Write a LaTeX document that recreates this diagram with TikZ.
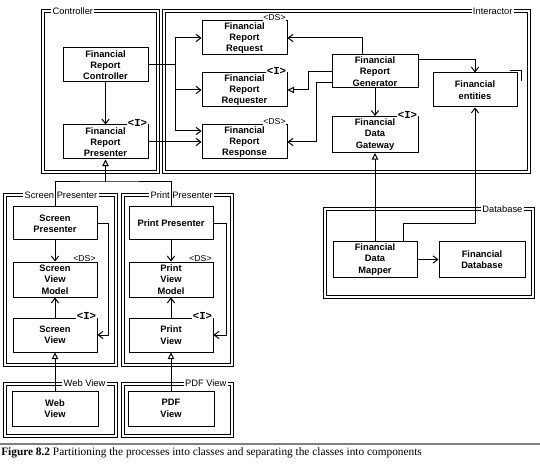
\documentclass[tikz,border=0pt]{standalone}
\usepackage{fontspec}
\setmainfont{Liberation Serif}
\setsansfont{Liberation Sans}
\setmonofont{Liberation Mono}
\usetikzlibrary{arrows.meta,calc}
\begin{document}
\begin{tikzpicture}[x=0.75pt,y=-0.75pt,
 box/.style={draw, line width=0.75pt, inner sep=0pt, align=center, font=\sffamily\bfseries\fontsize{7}{8.5}\selectfont, minimum width=63.75pt, minimum height=25.5pt},
 pkg/.style={draw, double, double distance=1.5pt, line width=0.75pt},
 plabel/.style={fill=white, inner xsep=1pt, inner ysep=0.5pt, font=\sffamily\fontsize{7}{8}\selectfont},
 ster/.style={fill=white, inner xsep=0.5pt, inner ysep=0pt, anchor=east, font=\sffamily\fontsize{6.5}{7}\selectfont},
 sterI/.style={fill=white, inner xsep=0.5pt, inner ysep=0pt, anchor=east, font=\ttfamily\bfseries\fontsize{8}{8}\selectfont},
 dep/.style={draw, line width=0.75pt, -{Straight Barb[length=3.5pt,width=5.5pt]}},
 real/.style={draw, line width=0.75pt, -{Triangle[open,length=5pt,width=5pt]}},
 conn/.style={draw, line width=0.75pt}]
\useasboundingbox (0,0) rectangle (540,467);

% packages
\draw[pkg] (42.5,11.5) rectangle (157.5,172.5);
\draw[pkg] (163.5,11.5) rectangle (528.5,172.5);
\draw[pkg] (324.5,209.5) rectangle (532.5,296.5);
\draw[pkg] (4.5,195.5) rectangle (115.5,364.5);
\draw[pkg] (122.5,195.5) rectangle (231.5,364.5);
\draw[pkg] (4.5,383.5) rectangle (115.5,435.5);
\draw[pkg] (122.5,383.5) rectangle (231.5,435.5);

\node[plabel, anchor=west] (lctrl) at (51,11.5) {Controller};
\node[plabel, anchor=east] (linter) at (514,11.5) {Interactor};
\node[plabel, anchor=east] (ldb) at (524,209.5) {Database};
\node[plabel, anchor=west] (lsp) at (23,195.5) {Screen Presenter};
\node[plabel, anchor=west] (lpp) at (149,195.5) {Print Presenter};
\node[plabel, anchor=east] (lweb) at (107,383.5) {Web View};
\node[plabel, anchor=east] (lpdf) at (228,383.5) {PDF View};

% boxes
\node[box] (ctrl) at (105.5,65) {Financial\\Report\\Controller};
\node[box] (pres) at (105.5,142) {Financial\\Report\\Presenter};
\node[box] (req) at (244.5,38) {Financial\\Report\\Request};
\node[box] (reqr) at (244.5,90) {Financial\\Report\\Requester};
\node[box] (resp) at (244.5,142) {Financial\\Report\\Response};
\node[box, minimum width=64.5pt, minimum height=24.75pt] (gen) at (375,71.5) {Financial\\Report\\Generator};
\node[box, minimum width=64.5pt, minimum height=27pt] (gw) at (375,134.5) {Financial\\Data\\Gateway};
\node[box, minimum width=63pt] (ent) at (475,90) {Financial\\entities};
\node[box, minimum width=63pt, minimum height=26.25pt] (mapper) at (375,259.5) {Financial\\Data\\Mapper};
\node[box, minimum width=64.5pt, minimum height=26.25pt] (db) at (482,259.5) {Financial\\Database};
\node[box, minimum width=63pt, minimum height=24.75pt] (sp) at (55,223.5) {Screen\\Presenter};
\node[box, minimum width=63pt, minimum height=26.25pt] (svm) at (55,279.5) {Screen\\View\\Model};
\node[box, minimum width=63pt] (sv) at (55,335) {Screen\\View};
\node[box, minimum width=63pt, minimum height=24.75pt] (pp) at (171,223.5) {Print Presenter};
\node[box, minimum width=63pt, minimum height=26.25pt] (pvm) at (171,279.5) {Print\\View\\Model};
\node[box, minimum width=63pt] (pv) at (171,335) {Print\\View};
\node[box, minimum width=64.5pt, minimum height=26.25pt] (web) at (55,408.5) {Web\\View};
\node[box, minimum width=64.5pt, minimum height=26.25pt] (pdf) at (171,408.5) {PDF\\View};

% stereotypes
\node[sterI] (st1) at ($(pres.north east)+(-0.5,-1.5)$) {<I>};
\node[ster] (st2) at ($(req.north east)+(-1,-2.5)$) {<DS>};
\node[sterI] (st3) at ($(reqr.north east)+(-0.5,-1.5)$) {<I>};
\node[ster] (st4) at ($(resp.north east)+(-1,-2.5)$) {<DS>};
\node[sterI] (st5) at ($(gw.north east)+(-0.5,-1.5)$) {<I>};
\node[ster] (st6) at ($(svm.north east)+(-1,-2.5)$) {<DS>};
\node[sterI] (st7) at ($(sv.north east)+(-0.5,-1.5)$) {<I>};
\node[ster] (st8) at ($(pvm.north east)+(-1,-2.5)$) {<DS>};
\node[sterI] (st9) at ($(pv.north east)+(-0.5,-1.5)$) {<I>};

% entities corner mark
\draw[conn] ($(ent.north east)+(-8,-2)$) -| ($(ent.north east)+(4,9)$);

% connectors
\coordinate (j1) at (175,65);
\draw[conn] (ctrl.east) -- (j1);
\draw[dep] (j1) |- (req.west);
\draw[dep] (j1) |- (reqr.west);
\draw[dep] (j1) |- ($(resp.west)+(0,-11)$);
\draw[dep] (ctrl) -- (pres);
\draw[dep] (pres.east) -- (resp.west);

\draw[dep] ($(gen.north)+(-13,0)$) |- (req.east);
\coordinate (k1) at (308,90);
\draw[real] (gen.west) -| (k1) -- (reqr.east);
\coordinate (k2) at (316,142);
\draw[dep] ($(gen.west)+(0,11)$) -| (k2) -- (resp.east);
\draw[dep] (gen) -- (gw);
\draw[dep] ($(gen.east)+(0,-11.5)$) -| (ent.north);

\draw[real] (mapper) -- (gw);
\coordinate (m1) at (403,224);
\draw[dep] (mapper.north -| m1) -- (m1) -| (ent.south);
\draw[dep] (mapper) -- (db);

\coordinate (t1) at (105.5,182);
\draw[real] (t1) -- (pres.south);
\draw[conn] (sp.north) |- (t1) -| (pp.north);

\draw[dep] (sp) -- (svm);
\draw[dep] (sv) -- (svm);
\coordinate (s1) at (108,335);
\draw[dep] (sp.east) -| (s1) -- (sv.east);
\draw[dep] (pp) -- (pvm);
\draw[dep] (pv) -- (pvm);
\coordinate (s2) at (226,335);
\draw[dep] (pp.east) -| (s2) -- (pv.east);

\draw[real] (web) -- (sv);
\draw[real] (pdf) -- (pv);

% caption
\draw[line width=1.1pt, gray] (0,444) -- (540,444);
\node[anchor=west, inner sep=0pt, font=\fontsize{8.5}{9.5}\selectfont] (cap) at (1,453) {\textbf{Figure 8.2} Partitioning the processes into classes and separating the classes into components};
\end{tikzpicture}
\end{document}
